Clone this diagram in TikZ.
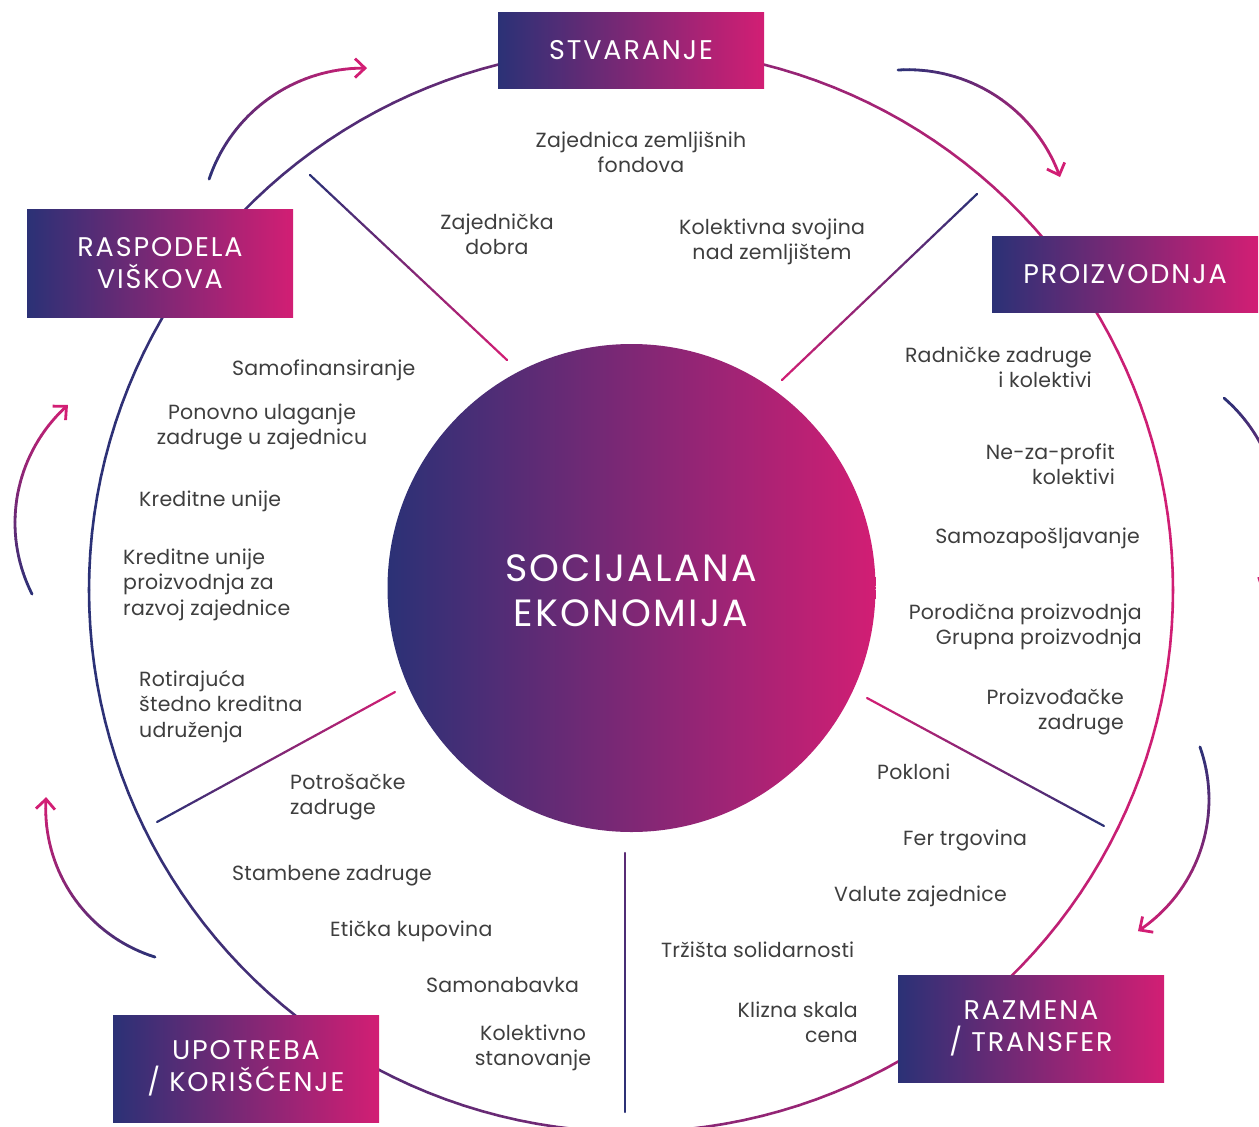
\documentclass[tikz,border=0pt]{standalone}
\usepackage{fontspec}
\setmainfont{Poppins}
\newfontfamily\boxfont{Poppins}[LetterSpace=7]
\newfontfamily\lblfont{Poppins}[LetterSpace=1]
\newfontfamily\corefont{Poppins}[LetterSpace=6]
\usetikzlibrary{arrows.meta,calc}
\definecolor{navyC}{RGB}{43,49,118}
\definecolor{magC}{RGB}{210,30,116}
\definecolor{txtC}{RGB}{62,62,62}
\tikzset{
  stagebox/.style={rectangle, minimum width=266pt, inner sep=0pt, left color=navyC, right color=magC,
    draw=none, text=white, align=center, font=\boxfont\fontsize{27}{32}\selectfont},
  lbl/.style={text=txtC, inner sep=0pt, font=\lblfont\fontsize{20.5}{25.5}\selectfont},
  ringseg/.style={line width=2.6pt, line cap=round},
  spokeseg/.style={line width=2.2pt, line cap=round},
  cycseg/.style={line width=2.8pt, line cap=round},
}
% gradient straight line: from #1 to #2, colour from navy (0) to #3 percent magenta
\newcommand\gradline[3]{%
  \foreach \i in {1,...,30}{%
    \pgfmathsetmacro\fa{(\i-1)/30}%
    \pgfmathsetmacro\fb{\i/30}%
    \pgfmathtruncatemacro\tt{#3*(\i-0.5)/30}%
    \draw[spokeseg, draw=magC!\tt!navyC] ($(#1)!\fa!(#2)$) -- ($(#1)!\fb!(#2)$);
  }%
}
\newcommand\gradarc[4]{%
  \foreach \i in {1,...,36}{%
    \pgfmathsetmacro\aa{#3+(#4-#3)*(\i-1)/36}%
    \pgfmathsetmacro\ab{#3+(#4-#3)*\i/36}%
    \pgfmathtruncatemacro\tt{100*(\i-0.5)/36}%
    \ifnum\i<36
      \draw[cycseg, draw=magC!\tt!navyC] ($(#1)+(\aa:#2)$) -- ($(#1)+(\ab:#2)$);
    \else
      \draw[cycseg, draw=magC, -{Straight Barb[length=10pt,width=19pt]}] ($(#1)+(\aa:#2)$) -- ($(#1)+(\ab:#2)$);
    \fi
  }%
}
\begin{document}
\begin{tikzpicture}[x=1pt,y=-1pt]
\path[use as bounding box] (0,0) rectangle (1259,1127);
\clip (0,0) rectangle (1259,1127);

% centres
\coordinate (oc) at (631,590);
\coordinate (a1c) at (363.6,231.1);
\coordinate (a2c) at (907.9,231.2);
\coordinate (a3c) at (1119.5,519.2);
\coordinate (a4c) at (1051.5,799.5);
\coordinate (a5c) at (201.3,808.5);
\coordinate (a6c) at (172.6,522.8);

% outer ring
\foreach \a in {0,2,...,358}{%
  \pgfmathtruncatemacro\tt{50+50*cos(\a+1)}%
  \pgfmathsetmacro\b{\a+2}%
  \draw[ringseg, draw=magC!\tt!navyC] ($(oc)+(\a:542)$) -- ($(oc)+(\b:542)$);
}

% cycle arrows
\gradarc{a1c}{163}{198.6}{271.2}
\gradarc{a2c}{161.5}{266.5}{340.4}
\gradarc{a3c}{160}{-49.2}{27.1}
\gradarc{a4c}{157.5}{-19.5}{56.7}
\gradarc{a5c}{155.6}{107.3}{184.2}
\gradarc{a6c}{157.6}{153.1}{228.4}

% spokes
\coordinate (s1o) at (310,175);  \coordinate (s1i) at (507,360);
\coordinate (s2o) at (977,194);  \coordinate (s2i) at (782,380);
\coordinate (s3o) at (1104,826); \coordinate (s3i) at (867,698);
\coordinate (s4o) at (625,1112); \coordinate (s4i) at (625,853);
\coordinate (s5o) at (157,822);  \coordinate (s5i) at (395,692);
\gradline{s1o}{s1i}{100}
\gradline{s2o}{s2i}{100}
\gradline{s3o}{s3i}{100}
\gradline{s4o}{s4i}{30}
\gradline{s5o}{s5i}{100}

% central circle
\node[circle, minimum size=488pt, inner sep=0pt, left color=navyC, right color=magC] (core) at (631.5,588) {};
\node[text=white, align=center, inner sep=0pt, font=\corefont\fontsize{38}{45}\selectfont, anchor=base] (coretxt) at (631,626) {SOCIJALANA\\EKONOMIJA};

% stage boxes
\node[stagebox, minimum height=76pt] (bS) at (631,50) {STVARANJE};
\node[stagebox, minimum height=76pt] (bP) at (1125,274) {PROIZVODNJA};
\node[stagebox, minimum height=107pt] (bR) at (1031,1028.5) {RAZMENA\\/ TRANSFER};
\node[stagebox, minimum height=107pt] (bU) at (246,1068.5) {UPOTREBA\\/ KORIŠĆENJE};
\node[stagebox, minimum height=108pt] (bV) at (160,263) {RASPODELA\\VIŠKOVA};

% top sector (anchor = baseline of last line)
\node[lbl, align=center, anchor=base] (t1) at (641,172.5) {Zajednica zemljišnih\\fondova};
\node[lbl, align=center, anchor=base] (t2) at (497,254.5) {Zajednička\\dobra};
\node[lbl, align=center, anchor=base] (t3) at (772,259.5) {Kolektivna svojina\\nad zemljištem};

% right sector
\node[lbl, align=right, anchor=base east] (r1) at (1092,387.5) {Radničke zadruge\\i kolektivi};
\node[lbl, align=right, anchor=base east] (r2) at (1115,484.5) {Ne-za-profit\\kolektivi};
\node[lbl, align=right, anchor=base east] (r3) at (1140,543) {Samozapošljavanje};
\node[lbl, align=right, anchor=base east] (r4) at (1142,644.5) {Porodična proizvodnja\\Grupna proizvodnja};
\node[lbl, align=right, anchor=base east] (r5) at (1124,729.5) {Proizvođačke\\zadruge};

% lower right sector
\node[lbl, anchor=base west] (b1) at (877,779) {Pokloni};
\node[lbl, anchor=base west] (b2) at (903,845) {Fer trgovina};
\node[lbl, anchor=base west] (b3) at (834,901) {Valute zajednice};
\node[lbl, anchor=base west] (b4) at (661,957) {Tržišta solidarnosti};
\node[lbl, align=right, anchor=base east] (b5) at (858,1042.5) {Klizna skala\\cena};

% lower left sector
\node[lbl, align=left, anchor=base west] (l1) at (290,814.5) {Potrošačke\\zadruge};
\node[lbl, anchor=base west] (l2) at (232,880) {Stambene zadruge};
\node[lbl, anchor=base west] (l3) at (330,936) {Etička kupovina};
\node[lbl, anchor=base west] (l4) at (426,992) {Samonabavka};
\node[lbl, align=center, anchor=base] (l5) at (533,1065.5) {Kolektivno\\stanovanje};

% left sector
\node[lbl, anchor=base west] (v1) at (232,375) {Samofinansiranje};
\node[lbl, align=center, anchor=base] (v2) at (262,444.5) {Ponovno ulaganje\\zadruge u zajednicu};
\node[lbl, anchor=base west] (v3) at (139,506) {Kreditne unije};
\node[lbl, align=left, anchor=base west] (v4) at (123,615) {Kreditne unije\\proizvodnja za\\razvoj zajednice};
\node[lbl, align=left, anchor=base west] (v5) at (139,737) {Rotirajuća\\štedno kreditna\\udruženja};
\end{tikzpicture}
\end{document}
